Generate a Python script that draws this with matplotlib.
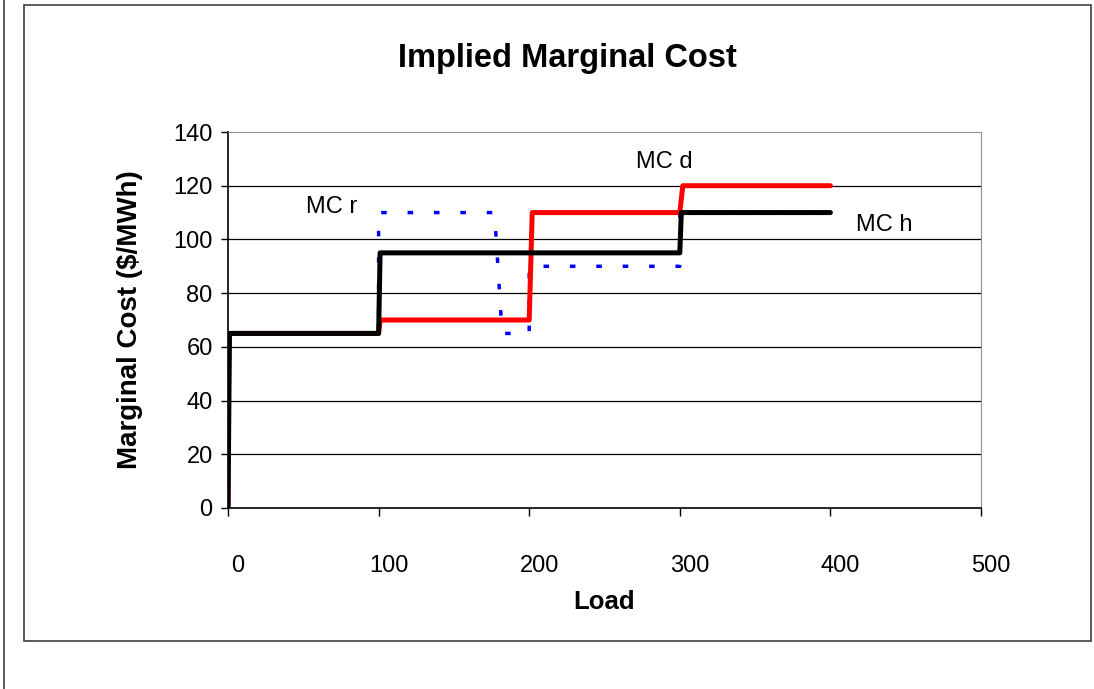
import matplotlib
matplotlib.use("Agg")
from matplotlib import pyplot as plt
from matplotlib import transforms as mtrans
from matplotlib.patches import Rectangle
from matplotlib.lines import Line2D

plt.rcParams['font.family'] = ['Liberation Sans', 'DejaVu Sans']

# step curves (load, $/MWh)
mc_r_load = [0, 0, 100, 100, 177, 182, 200, 200, 300, 300, 400]
mc_r_cost = [0, 65, 65, 110, 110, 65, 65, 90, 90, 110, 110]
mc_d_load = [0, 0, 100, 101, 200, 202, 300, 302, 400]
mc_d_cost = [0, 65, 65, 70, 70, 110, 110, 120, 120]
mc_h_load = [0, 1, 100, 101, 300, 301, 400]
mc_h_cost = [0, 65, 65, 95, 95, 110, 110]

x_ticks = [0, 100, 200, 300, 400, 500]
y_ticks = [0, 20, 40, 60, 80, 100, 120, 140]

fig = plt.figure(figsize=(10.94, 6.89), dpi=100)
fig.patch.set_facecolor('white')

# outer chart frame plus the stray line on the left
fig.add_artist(Rectangle((24 / 1094, 1 - 641 / 689), (1091 - 24) / 1094, (641 - 5) / 689,
                         transform=fig.transFigure, fill=False, edgecolor='#404040', lw=1.2))
fig.add_artist(Line2D([4 / 1094, 4 / 1094], [0, 1], transform=fig.transFigure,
                      color='#404040', lw=1.2))

ax = fig.add_axes([228 / 1094, 1 - 508 / 689, (981 - 228) / 1094, (508 - 132) / 689])
ax.set_xlim(0, 500)
ax.set_ylim(0, 140)

for y in y_ticks[1:-1]:
    ax.axhline(y, color='black', lw=0.9, zorder=1)

ax.plot(mc_r_load, mc_r_cost, color='blue', lw=2.5, linestyle=(0, (1.6, 6)), zorder=2)
ax.plot(mc_d_load, mc_d_cost, color='red', lw=3.6, zorder=3, solid_capstyle='round')
ax.plot(mc_h_load, mc_h_cost, color='black', lw=3.6, zorder=4, solid_capstyle='round')

ax.text(69, 112, 'MC r', fontsize=17, ha='center', va='center')
ax.text(290, 129, 'MC d', fontsize=17, ha='center', va='center')
ax.text(436, 105.5, 'MC h', fontsize=17, ha='center', va='center')

ax.spines['top'].set_color('#909090')
ax.spines['right'].set_color('#909090')
ax.spines['left'].set_color('black')
ax.spines['bottom'].set_color('black')
ax.spines['left'].set_linewidth(1.2)
ax.spines['bottom'].set_linewidth(1.2)

ax.set_xticks(x_ticks)
ax.set_yticks(y_ticks)
ax.tick_params(axis='x', direction='out', length=6, width=1, pad=28, labelsize=17)
ax.tick_params(axis='y', direction='out', length=5, width=1, pad=6, labelsize=17)
shift = mtrans.ScaledTranslation(10 / 100, 0, fig.dpi_scale_trans)
for lab in ax.get_xticklabels():
    lab.set_transform(lab.get_transform() + shift)

ax.set_xlabel('Load', fontsize=18.5, fontweight='bold', labelpad=9)
ax.set_ylabel('Marginal Cost ($/MWh)', fontsize=20, fontweight='bold', labelpad=22)
fig.text(567 / 1094, 1 - 58 / 689, 'Implied Marginal Cost', fontsize=23.5, fontweight='bold',
         ha='center', va='center')

fig.savefig('out.png', dpi=100)
